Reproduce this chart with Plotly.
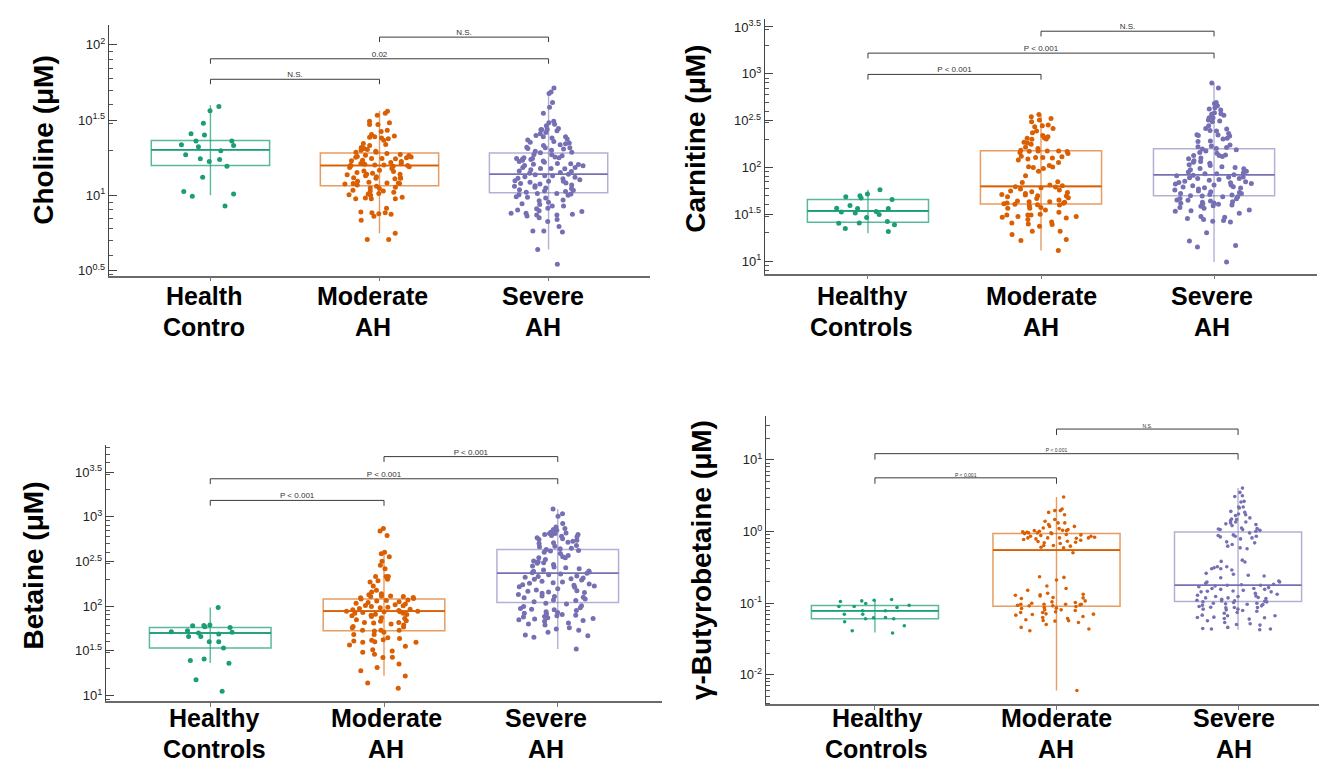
import math
import plotly.graph_objects as go

W, H = 1327, 764
FONT = "Liberation Sans, Arial, sans-serif"

groups = ["Healthy Controls", "Moderate AH", "Severe AH"]
group_colors = ["#1b9e77", "#d95f02", "#7570b3"]
group_light = ["rgba(27,158,119,0.72)", "rgba(217,95,2,0.62)", "rgba(117,112,179,0.55)"]

# ---------------- data (µM) ----------------
choline_healthy = [36.5, 38.9, 30.1, 25.7, 25.2, 23.0, 23.0, 21.7, 21.4, 21.0, 19.8, 18.6, 17.5, 17.3,
                   16.8, 15.6, 13.2, 10.6, 9.85, 10.2, 8.5]
choline_moderate = [36.2, 35.1, 34.1, 31.1, 30.3, 29.6, 29.6, 27.1, 26.6, 25.4, 24.8, 24.3, 24.5, 23.8,
                    24.0, 23.2, 22.1, 21.8, 21.4, 20.8, 20.5, 20.2, 19.9, 19.6, 19.3, 19.3, 19.0, 18.7,
                    18.5, 18.4, 18.1, 18.0, 17.9, 17.8, 17.6, 17.5, 17.6, 17.1, 17.0, 16.8, 16.5, 16.3,
                    16.3, 16.1, 15.9, 15.9, 15.8, 15.8, 15.8, 15.6, 15.5, 15.3, 15.1, 14.7, 14.5, 14.4,
                    14.2, 14.0, 13.8, 13.8, 13.7, 13.5, 13.3, 13.1, 13.1, 13.0, 13.0, 12.9, 12.4, 12.2,
                    12.1, 12.1, 12.0, 12.0, 11.9, 11.7, 11.5, 11.3, 11.2, 11.1, 10.8, 10.7, 10.7, 10.5,
                    10.3, 10.2, 10.1, 10.0, 9.7, 9.6, 9.5, 9.5, 9.5, 8.2, 7.75, 7.67, 7.55, 7.67, 7.5,
                    7.26, 6.83, 5.60, 5.09, 5.09]
choline_severe = [51.7, 47.4, 48.6, 41.3, 38.5, 35.1, 31.1, 30.3, 29.7, 29.0, 27.8, 27.4, 27.4, 27.3,
                  26.9, 26.1, 25.7, 25.0, 24.5, 24.5, 24.0, 23.7, 23.3, 22.8, 22.5, 22.3, 22.0, 21.7,
                  21.4, 20.7, 20.7, 20.9, 20.5, 20.3, 19.9, 19.6, 19.3, 19.2, 18.7, 18.6, 18.3, 18.0,
                  17.8, 17.8, 17.6, 17.6, 17.4, 17.3, 17.1, 16.9, 16.8, 16.6, 16.3, 16.2, 16.1, 16.0,
                  15.8, 15.7, 15.3, 15.3, 15.1, 15.1, 15.0, 14.8, 14.5, 14.4, 14.2, 14.0, 13.8, 13.7,
                  13.5, 13.5, 13.3, 13.2, 13.0, 12.9, 12.7, 12.5, 12.4, 12.4, 12.2, 12.1, 12.0, 11.9,
                  11.7, 11.6, 11.5, 11.3, 11.2, 11.1, 10.9, 10.8, 10.7, 10.6, 10.5, 10.3, 10.3, 10.2,
                  10.1, 10.0, 9.8, 9.7, 9.6, 9.3, 9.2, 9.0, 8.8, 8.7, 8.5, 8.5, 8.2, 8.15, 8.0, 7.9,
                  7.8, 7.6, 7.6, 7.5, 7.4, 7.4, 7.3, 7.1, 6.9, 6.7, 6.2, 5.8, 5.8, 5.7, 4.37, 3.48]

carnitine_healthy = [57.9, 45.4, 50.0, 52.1, 48.8, 47.2, 39.2, 36.7, 36.4, 33.5, 36.4, 31.4, 32.7, 33.8,
                     26.5, 25.4, 25.6, 29.2, 24.4, 22.3, 20.7]
carnitine_moderate = [368, 334, 321, 308, 348, 284, 279, 272, 261, 245, 235, 219, 213, 208, 201, 205, 200,
                      186, 183, 177, 164, 160, 153, 150, 149, 150, 148, 150, 145, 141, 132, 130, 128, 128,
                      126, 123, 120, 113, 105, 102, 100, 101, 97.5, 91.3, 81.5, 70.4, 69.2, 64.9, 63.8,
                      62.3, 61.8, 60.8, 58.8, 57.4, 56.0, 55.1, 54.2, 52.9, 51.6, 50.8, 50.0, 49.6, 48.8,
                      47.6, 46.8, 45.0, 43.9, 43.2, 43.2, 42.5, 41.8, 41.4, 41.1, 40.4, 40.1, 39.8, 39.1,
                      37.3, 36.7, 36.7, 35.2, 33.2, 31.7, 31.1, 31.1, 29.9, 29.4, 31.1, 29.9, 28.9, 27.8,
                      26.2, 25.6, 25.0, 24.6, 23.6, 20.9, 20.9, 19.3, 17.0, 16.6, 13.0]
carnitine_severe = [799, 707, 494, 482, 455, 434, 420, 410, 384, 371, 374, 362, 339, 339, 321, 313, 308,
                    279, 261, 257, 249, 245, 231, 224, 222, 219, 217, 201, 205, 192, 189, 174, 170, 167,
                    163, 160, 158, 155, 150, 145, 142, 136, 134, 134, 131, 126, 124, 118, 116, 114, 111,
                    107, 105, 102, 100, 97.5, 96.7, 94.4, 91.3, 89.6, 88.1, 86.0, 86.0, 83.9, 82.6, 81.5,
                    79.4, 78.8, 77.5, 76.3, 76.3, 74.4, 73.2, 71.5, 70.4, 69.2, 68.7, 67.6, 66.5, 64.9,
                    64.9, 63.8, 62.3, 61.8, 60.8, 60.3, 58.8, 57.4, 56.0, 55.1, 54.2, 52.9, 52.9, 51.6,
                    50.8, 50.0, 49.6, 48.8, 48.8, 46.8, 46.4, 45.0, 44.6, 43.9, 43.2, 42.5, 41.8, 41.4,
                    41.1, 40.4, 39.8, 39.1, 38.5, 37.3, 36.7, 35.2, 34.6, 34.1, 32.4, 29.9, 29.4, 28.5,
                    27.8, 27.1, 26.7, 26.2, 20.1, 16.4, 14.7, 14.2, 9.8]

betaine_healthy = [96.5, 61.4, 58.8, 57.8, 60.3, 60.9, 53.1, 51.8, 50.0, 48.8, 50.9, 45.9, 45.9, 40.1,
                   40.1, 34.0, 25.7, 24.6, 23.0, 15.0, 11.2]
betaine_moderate = [737, 695, 616, 402, 385, 357, 317, 286, 262, 214, 214, 214, 200, 193, 186, 168, 151,
                    144, 138, 134, 130, 130, 128, 128, 125, 124, 122, 120, 117, 116, 114, 112, 110, 108,
                    106, 104, 102, 101, 99.1, 97.4, 95.7, 94.1, 92.5, 90.9, 89.4, 87.9, 87.9, 86.4, 86.4,
                    85.0, 83.5, 83.5, 81.4, 80.7, 79.3, 78.0, 76.7, 74.1, 72.8, 70.4, 68.6, 68.0, 65.7,
                    65.7, 64.6, 63.0, 61.4, 59.3, 58.3, 57.3, 53.6, 53.6, 53.6, 52.6, 50.9, 48.3, 48.3,
                    44.4, 43.6, 42.2, 41.5, 40.7, 40.1, 39.4, 39.4, 36.8, 35.5, 32.6, 31.5, 30.5, 28.9,
                    26.8, 26.6, 22.6, 20.6, 18.9, 16.5, 13.8, 12.1]
betaine_severe = [1221, 1083, 1012, 838, 770, 737, 719, 707, 671, 660, 649, 649, 632, 632, 616, 606, 596,
                  581, 566, 556, 547, 533, 520, 511, 502, 477, 469, 461, 445, 438, 431, 420, 413, 402,
                  389, 369, 357, 348, 348, 333, 319, 314, 306, 301, 293, 281, 274, 269, 262, 254, 247,
                  245, 241, 237, 233, 229, 225, 217, 214, 210, 207, 203, 200, 196, 190, 186, 183, 180,
                  177, 174, 171, 168, 165, 163, 157, 152, 149, 147, 144, 142, 139, 135, 130, 128, 126,
                  124, 120, 117, 116, 112, 108, 106, 101, 99.1, 95.7, 94.1, 92.5, 90.9, 89.4, 86.4,
                  85.0, 83.5, 82.1, 80.7, 79.3, 78.0, 76.7, 75.4, 74.1, 72.8, 71.6, 70.4, 69.2, 68.0,
                  64.6, 63.0, 61.4, 57.3, 55.4, 53.6, 50.9, 47.5, 46.7, 44.8, 33.2]

gbb_healthy = [0.1123, 0.1076, 0.1054, 0.1099, 0.0988, 0.0937, 0.0898, 0.0898, 0.0782, 0.0782, 0.0702,
               0.0702, 0.0632, 0.0625, 0.0605, 0.0605, 0.055, 0.0484, 0.0412, 0.0383, 0.087]
gbb_moderate = [3.03, 2.06, 1.96, 1.96, 1.85, 1.72, 1.47, 1.39, 1.32, 1.32, 1.25, 1.18, 1.18, 1.12, 1.10,
                1.065, 1.04, 1.03, 1.03, 1.01, 0.989, 0.978, 0.957, 0.957, 0.957, 0.937, 0.937, 0.908,
                0.898, 0.879, 0.861, 0.861, 0.834, 0.816, 0.816, 0.816, 0.816, 0.807, 0.790, 0.774,
                0.757, 0.733, 0.726, 0.710, 0.695, 0.681, 0.638, 0.638, 0.625, 0.605, 0.592, 0.505,
                0.234, 0.229, 0.211, 0.174, 0.160, 0.151, 0.1376, 0.1332, 0.1304, 0.129, 0.1263, 0.1185,
                0.1198, 0.116, 0.1076, 0.1042, 0.1020, 0.0999, 0.0968, 0.0968, 0.0968, 0.0968, 0.0947,
                0.0937, 0.0918, 0.0918, 0.0898, 0.0870, 0.0852, 0.0842, 0.0807, 0.0807, 0.0790, 0.0757,
                0.0741, 0.0741, 0.0710, 0.0703, 0.0695, 0.0681, 0.0652, 0.0632, 0.0612, 0.0586, 0.0574,
                0.0568, 0.0562, 0.0538, 0.0505, 0.0459, 0.0435, 0.0412, 0.00605]
gbb_severe = [4.04, 3.52, 3.16, 3.09, 2.64, 2.58, 2.20, 2.20, 2.13, 1.91, 1.85, 1.76, 1.72, 1.67, 1.55,
              1.50, 1.47, 1.42, 1.36, 1.36, 1.32, 1.28, 1.25, 1.21, 1.12, 1.10, 1.088, 1.065, 1.065,
              1.04, 1.01, 0.957, 0.898, 0.879, 0.861, 0.861, 0.842, 0.816, 0.790, 0.718, 0.695, 0.659,
              0.625, 0.574, 0.592, 0.399, 0.383, 0.375, 0.323, 0.313, 0.323, 0.303, 0.303, 0.290, 0.261,
              0.253, 0.245, 0.239, 0.227, 0.204, 0.198, 0.198, 0.189, 0.183, 0.181, 0.178, 0.178, 0.174,
              0.170, 0.165, 0.160, 0.160, 0.156, 0.156, 0.151, 0.148, 0.147, 0.144, 0.144, 0.1376,
              0.1332, 0.129, 0.1263, 0.1237, 0.1237, 0.1198, 0.1185, 0.1185, 0.116, 0.1135, 0.1100,
              0.1076, 0.1076, 0.1065, 0.1042, 0.1042, 0.1020, 0.0999, 0.0999, 0.0978, 0.0968, 0.0957,
              0.0937, 0.0918, 0.0898, 0.0879, 0.0870, 0.0870, 0.0861, 0.0825, 0.0825, 0.0807, 0.0790,
              0.0773, 0.0741, 0.0725, 0.0681, 0.0666, 0.0666, 0.0638, 0.0632, 0.0625, 0.0612, 0.0599,
              0.0568, 0.0538, 0.0516, 0.0505, 0.0494, 0.0459, 0.0444, 0.0435, 0.0435, 0.0426]

# box statistics per group: [q1, median, q3, lower whisker, upper whisker]
choline_stats = [[15.8, 20.1, 23.1, 10.0, 39.7], [11.6, 15.8, 19.1, 5.6, 36.4], [10.4, 13.8, 19.1, 4.37, 47.4]]
carnitine_stats = [[26.0, 34.4, 45.4, 19.9, 57.9], [40.8, 62.8, 151, 13.0, 368], [50.0, 83.6, 159, 9.8, 798]]
betaine_stats = [[34.0, 50.0, 57.8, 23.2, 96.5], [53.1, 87.9, 120.5, 16.7, 395], [110, 233, 431, 33.2, 1221]]
gbb_stats = [[0.0605, 0.0782, 0.0927, 0.0391, 0.111], [0.0907, 0.550, 0.937, 0.00605, 3.03],
             [0.1054, 0.178, 0.988, 0.0426, 4.04]]

# significance brackets: (group a, group b, label)
choline_sig = [(1, 2, "N.S."), (0, 2, "0.02"), (0, 1, "N.S.")]
carnitine_sig = [(1, 2, "N.S."), (0, 2, "P < 0.001"), (0, 1, "P < 0.001")]
betaine_sig = [(1, 2, "P < 0.001"), (0, 2, "P < 0.001"), (0, 1, "P < 0.001")]
gbb_sig = [(1, 2, "N.S."), (0, 2, "P < 0.001"), (0, 1, "P < 0.001")]

panels = [
    dict(title="Choline (μM)", values=[choline_healthy, choline_moderate, choline_severe],
         stats=choline_stats, sig=choline_sig, tick_exps=[0.5, 1, 1.5, 2],
         labels=[("Health", "Contro"), ("Moderate", "AH"), ("Severe", "AH")]),
    dict(title="Carnitine (μM)", values=[carnitine_healthy, carnitine_moderate, carnitine_severe],
         stats=carnitine_stats, sig=carnitine_sig, tick_exps=[1, 1.5, 2, 2.5, 3, 3.5],
         labels=[("Healthy", "Controls"), ("Moderate", "AH"), ("Severe", "AH")]),
    dict(title="Betaine (μM)", values=[betaine_healthy, betaine_moderate, betaine_severe],
         stats=betaine_stats, sig=betaine_sig, tick_exps=[1, 1.5, 2, 2.5, 3, 3.5],
         labels=[("Healthy", "Controls"), ("Moderate", "AH"), ("Severe", "AH")]),
    dict(title="γ-Butyrobetaine (μM)", values=[gbb_healthy, gbb_moderate, gbb_severe],
         stats=gbb_stats, sig=gbb_sig, tick_exps=[-2, -1, 0, 1],
         labels=[("Healthy", "Controls"), ("Moderate", "AH"), ("Severe", "AH")]),
]

# ---------------- geometry / style (pixels) ----------------
geom = [
    dict(px=(101, 642, 16, 268), yr=(0.467, 2.132), xr=(-0.6, 2.6), title_xy=(35.5, 132),
         label_y=(289, 320), label_dx=[-6, -7, -6], levels=[2.051, 1.907, 1.771], drop=0.033,
         bfont=8, msize=5),
    dict(px=(757, 1309, 10, 266), yr=(0.867, 3.586), xr=(-0.595, 2.595), title_xy=(687.5, 131),
         label_y=(289, 320), label_dx=[-6, 0, -2], levels=[3.455, 3.221, 2.994], drop=0.056,
         bfont=8, msize=5),
    dict(px=(98, 654, 438, 696), yr=(0.935, 3.806), xr=(-0.6, 2.6), title_xy=(26, 559.5),
         label_y=(713, 744), label_dx=[4, 2, -12], levels=[3.673, 3.425, 3.183], drop=0.06,
         bfont=8, msize=5),
    dict(px=(758, 1327, 409, 699), yr=(-2.4125, 1.6153), xr=(-0.6, 2.534), title_xy=(693, 554),
         label_y=(713, 744), label_dx=[2, 0, -4], levels=[1.431, 1.0875, 0.75], drop=0.083,
         bfont=5, msize=3.6),
]

BOX_W = 0.7
PTS_W = 0.46

fig = go.Figure()
annotations = []
layout_axes = {}

for k, (p, g) in enumerate(zip(panels, geom), start=1):
    xa = "x" if k == 1 else f"x{k}"
    ya = "y" if k == 1 else f"y{k}"
    x0, x1, yt, yb = g["px"]

    for i, (vals, st, col, light) in enumerate(zip(p["values"], p["stats"], group_colors, group_light)):
        q1, med, q3, lo, hi = st
        # outline box
        fig.add_trace(go.Box(x=[i], q1=[q1], median=[med], q3=[q3], lowerfence=[q1], upperfence=[q3],
                             width=BOX_W, whiskerwidth=0, fillcolor="rgba(255,255,255,0)",
                             line=dict(color=light, width=1.5), boxpoints=False,
                             xaxis=xa, yaxis=ya, showlegend=False, hoverinfo="skip"))
        # whisker running through the box
        fig.add_trace(go.Box(x=[i], q1=[med], median=[med], q3=[med], lowerfence=[lo], upperfence=[hi],
                             width=BOX_W, whiskerwidth=0, fillcolor="rgba(255,255,255,0)",
                             line=dict(color=light, width=1.4), boxpoints=False,
                             xaxis=xa, yaxis=ya, showlegend=False, hoverinfo="skip"))
        # median line
        fig.add_trace(go.Box(x=[i], q1=[med], median=[med], q3=[med], lowerfence=[med], upperfence=[med],
                             width=BOX_W, whiskerwidth=0, fillcolor="rgba(255,255,255,0)",
                             line=dict(color=col, width=1.6), boxpoints=False,
                             xaxis=xa, yaxis=ya, showlegend=False, hoverinfo="skip"))
    for i, (vals, col) in enumerate(zip(p["values"], group_colors)):
        # jittered sample points
        fig.add_trace(go.Box(x=[i] * len(vals), y=vals, boxpoints="all", jitter=1, pointpos=0,
                             width=PTS_W, whiskerwidth=0, fillcolor="rgba(0,0,0,0)",
                             line=dict(color="rgba(0,0,0,0)", width=0),
                             marker=dict(color=col, size=g["msize"], opacity=1),
                             name=groups[i], xaxis=xa, yaxis=ya, showlegend=False, hoveron="points"))

    # significance brackets
    bx, by, tx, ty, tt = [], [], [], [], []
    for (a, b, txt), lev in zip(p["sig"], g["levels"]):
        top = 10 ** lev
        bot = 10 ** (lev - g["drop"])
        bx += [a, a, b, b, None]
        by += [bot, top, top, bot, None]
        tx.append((a + b) / 2)
        ty.append(top)
        tt.append(txt)
    fig.add_trace(go.Scatter(x=bx, y=by, mode="lines", line=dict(color="#3a3a3a", width=1),
                             xaxis=xa, yaxis=ya, showlegend=False, hoverinfo="skip"))
    fig.add_trace(go.Scatter(x=tx, y=ty, mode="text", text=tt, textposition="top center",
                             textfont=dict(family=FONT, size=g["bfont"], color="#333"),
                             xaxis=xa, yaxis=ya, showlegend=False, hoverinfo="skip"))

    # axes
    lo_r, hi_r = g["yr"]
    tickvals = [10 ** e for e in p["tick_exps"]]
    ticktext = [f"10<sup>{e:g}</sup>" for e in p["tick_exps"]]
    minor_vals = []
    for d in range(math.floor(lo_r), math.ceil(hi_r) + 1):
        for m in range(2, 10):
            v = m * 10 ** d
            if lo_r <= math.log10(v) <= hi_r:
                minor_vals.append(v)

    layout_axes["xaxis" if k == 1 else f"xaxis{k}"] = dict(
        domain=[x0 / W, x1 / W], range=list(g["xr"]), anchor=ya, showticklabels=False,
        tickvals=[0, 1, 2], ticks="outside", ticklen=4, tickcolor="#777", showline=True,
        linecolor="#6a6a6a", linewidth=1.6, showgrid=False, zeroline=False, fixedrange=True)
    layout_axes["yaxis" if k == 1 else f"yaxis{k}"] = dict(
        domain=[1 - yb / H, 1 - yt / H], type="log", range=[lo_r, hi_r], anchor=xa,
        tickmode="array", tickvals=tickvals, ticktext=ticktext, ticks="inside", ticklen=8,
        tickcolor="#444", tickwidth=1.2, showline=True, linecolor="#444", linewidth=1.4,
        showgrid=False, zeroline=False,
        tickfont=dict(family=FONT, size=13, color="#222"),
        minor=dict(tickmode="array", tickvals=minor_vals, ticks="inside", ticklen=4,
                   tickcolor="#555", tickwidth=1, showgrid=False),
        fixedrange=True)

    # y-axis title
    tx_, ty_ = g["title_xy"]
    annotations.append(dict(text=f"<b>{p['title']}</b>", xref="paper", yref="paper",
                            x=tx_ / W, y=1 - ty_ / H, xanchor="center", yanchor="middle",
                            textangle=-90, showarrow=False,
                            font=dict(family=FONT, size=28, color="#000")))
    # category labels
    for i, (l1, l2) in enumerate(p["labels"]):
        for line, yy in zip((l1, l2), g["label_y"]):
            annotations.append(dict(text=f"<b>{line}</b>", xref=xa, yref="paper", x=i,
                                    y=1 - yy / H, xanchor="center", yanchor="middle",
                                    xshift=g["label_dx"][i], showarrow=False,
                                    font=dict(family=FONT, size=25, color="#000")))

fig.update_layout(
    width=W, height=H, autosize=False,
    margin=dict(l=0, r=0, t=0, b=0),
    paper_bgcolor="white", plot_bgcolor="white",
    boxmode="overlay", showlegend=False, hovermode="closest",
    annotations=annotations,
    **layout_axes,
)

fig.write_html("out.html")
